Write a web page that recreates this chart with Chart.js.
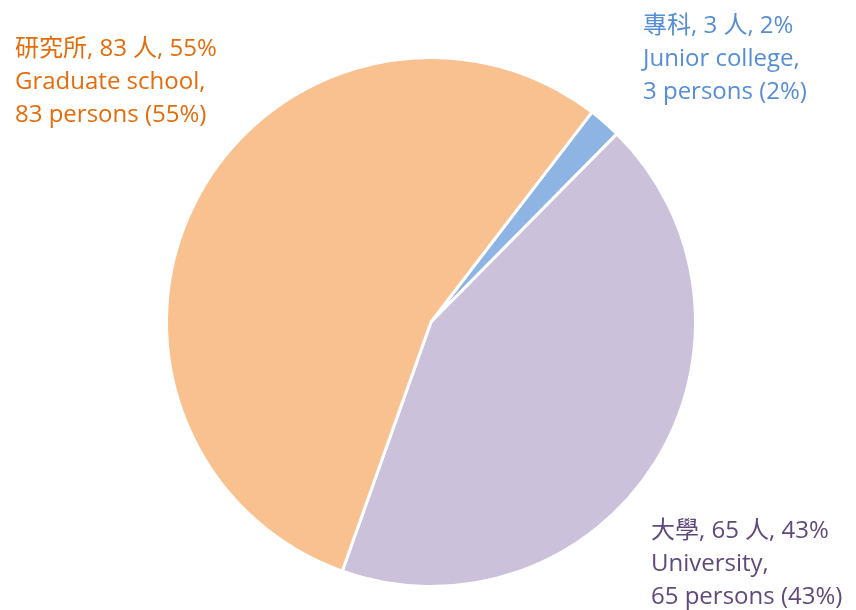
<!DOCTYPE html>
<html>
<head>
<meta charset="utf-8">
<script src="https://cdn.jsdelivr.net/npm/chart.js@4/dist/chart.umd.min.js"></script>
<style>
  html, body { margin: 0; padding: 0; background: #ffffff; }
  #wrap { width: 856px; height: 610px; position: relative; }
</style>
</head>
<body>
<div id="wrap"><canvas id="myChart" width="856" height="610"></canvas></div>
<script>
let labelsZh = ["專科", "大學", "研究所"];
let labelsEn = ["Junior college", "University", "Graduate school"];
let values = [3, 65, 83];
let percents = [2, 43, 55];
let colors = ["#8DB4E2", "#CCC1DA", "#F9C190"];
let textColors = ["#558ED5", "#604A7B", "#E46C0A"];
// where each label block starts (left x, first line y)
let labelPos = [[643, 26], [651, 531], [15, 49]];

var labelPlugin = {
  id: "sliceLabels",
  afterDraw(chart) {
    let c = chart.ctx;
    c.save();
    c.font = "24px 'Open Sans', 'Noto Sans CJK TC', sans-serif";
    c.textBaseline = "middle";
    c.textAlign = "left";
    for (let i = 0; i < values.length; i++) {
      let lines = [
        labelsZh[i] + ", " + values[i] + " 人, " + percents[i] + "%",
        labelsEn[i] + ",",
        values[i] + " persons (" + percents[i] + "%)",
      ];
      c.fillStyle = textColors[i];
      for (let j = 0; j < lines.length; j++) {
        c.fillText(lines[j], labelPos[i][0], labelPos[i][1] + j * 33);
      }
    }
    c.restore();
  },
};

var ctx = document.getElementById("myChart");
var pieChart = new Chart(ctx, {
  type: "pie",
  data: {
    labels: labelsEn,
    datasets: [
      {
        data: values,
        backgroundColor: colors,
        borderColor: "#ffffff",
        borderWidth: 3,
      },
    ],
  },
  options: {
    responsive: false,
    animation: false,
    rotation: 37.5,
    layout: {
      padding: { left: 165, right: 159, top: 55, bottom: 21 },
    },
    plugins: {
      legend: { display: false },
      tooltip: { enabled: false },
    },
  },
  plugins: [labelPlugin],
});
</script>
</body>
</html>
